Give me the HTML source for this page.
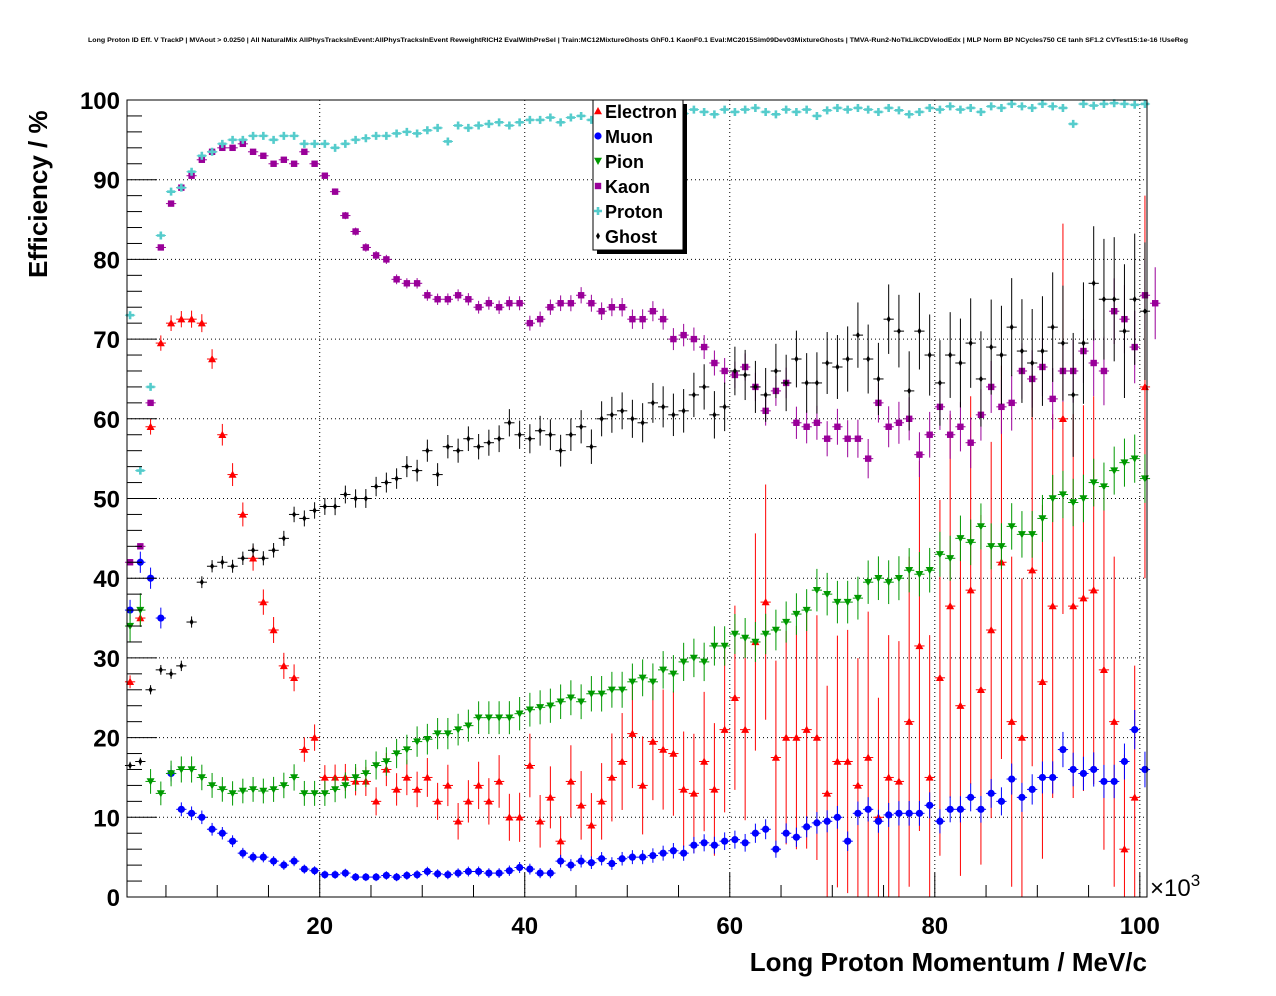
<!DOCTYPE html>
<html><head><meta charset="utf-8">
<style>
html,body{margin:0;padding:0;background:#fff;}
svg{display:block;font-family:"Liberation Sans",sans-serif;}
</style></head>
<body>
<svg id="chart" width="1276" height="996" viewBox="0 0 1276 996" xmlns="http://www.w3.org/2000/svg">
<rect x="0" y="0" width="1276" height="996" fill="#fff"/>
<text x="88" y="42" font-size="6.3" font-weight="bold" textLength="1100" lengthAdjust="spacingAndGlyphs">Long Proton ID Eff. V TrackP | MVAout &gt; 0.0250 | All NaturalMix AllPhysTracksInEvent:AllPhysTracksInEvent ReweightRICH2 EvalWithPreSel | Train:MC12MixtureGhosts GhF0.1 KaonF0.1 Eval:MC2015Sim09Dev03MixtureGhosts | TMVA-Run2-NoTkLikCDVelodEdx | MLP Norm BP NCycles750 CE tanh SF1.2 CVTest15:1e-16 !UseReg</text>
<g id="grid"></g>
<g id="marks"></g>
<rect x="127" y="100" width="1020" height="797" fill="none" stroke="#000" stroke-width="1"/>
<g id="axes"></g>
<text transform="translate(47,278) rotate(-90)" font-size="26" font-weight="bold">Efficiency / %</text>
<text x="1147" y="971" text-anchor="end" font-size="26" font-weight="bold">Long Proton Momentum / MeV/c</text>
<text x="1150" y="896" font-size="24">×10<tspan font-size="17" dy="-10">3</tspan></text>
<g id="legend"></g>
</svg>
<script>
const binStart = 1.5;
const electron = [27,35,59,69.5,72,72.5,72.5,72,67.5,58,53,48,42.5,37,33.5,29,27.5,18.5,20,15,15,15,14.5,14.5,12,16,13.5,15,13.5,15,12,14,9.5,12,14,12,14.5,10,10,16.5,9.5,12.5,7,14.5,11.5,9,12,15,17,20.5,14,19.5,18.5,18,13.5,13,17,13.5,21,25,21,32,37,17.5,20,20,21,20,13,17,17,14,17.5,10,15,14.5,22,31.5,15,27.5,36.5,24,38.5,26,33.5,42,22,20,41,27,36.5,60,36.5,37.5,38.5,28.5,22,6,12.5,64];
const muon = [36,42,40,35,15.5,11,10.5,10,8.5,8,7,5.5,5,5,4.5,4,4.5,3.5,3.3,2.8,2.8,3,2.5,2.5,2.5,2.7,2.5,2.7,2.8,3.2,2.9,2.8,3,3.2,3.2,3,3,3.3,3.7,3.5,3,3,4.5,4,4.5,4.3,4.8,4.2,4.8,5,5,5.2,5.5,5.8,5.5,6.5,6.8,6.5,7,7.2,6.8,8,8.5,6,8,7.5,8.8,9.3,9.5,10,7,10.5,11,9.5,10.3,10.5,10.5,10.5,11.5,9.5,11,11,12.5,11,13,12,14.8,12.5,13.5,15,15,18.5,16,15.5,16,14.5,14.5,17,21,16];
const pion = [34,36,14.5,13,15.5,16,16,15,14,13.5,13,13.3,13.5,13.3,13.5,14,15,13,13,13,13.5,14,15,15.5,16.5,17,18,18.5,19.5,19.8,20.5,20.5,21,21.5,22.5,22.5,22.5,22.5,23,23.5,23.8,24,24.5,25,24.5,25.5,25.5,26,26,27,27.5,27,28.5,28,29.5,30,29.5,31.5,31.5,33,32.5,32,33,33.5,34.5,35.5,36,38.5,38,37,37,37.5,39.5,40,39.5,40,41,40.5,41,43,42.5,45,44.5,46.5,44,44,46.5,45.5,45.5,47.5,50,50.5,49.5,50,52,51.5,53.5,54.5,55,52.5];
const kaon = [42,44,62,81.5,87,89,90.5,92.5,93.5,94,94,94.5,93.5,93,92,92.5,92,93.5,92,90.5,88.5,85.5,83.5,81.5,80.5,80,77.5,77,77,75.5,75,75,75.5,75,74,74.5,74,74.5,74.5,72,72.5,74,74.5,74.5,75.5,74.5,73.5,74,74,72.5,72.5,73.5,72.5,70,70.5,70,69,67,66,65.5,66.5,64,61,63.5,64.5,59.5,59,59.5,57.5,59,57.5,57.5,55,62,59,59.5,60,55.5,58,61.5,58,59,57,60.5,64,61.5,62,66,65,66.5,62.5,66,66,68.5,67,66,73.5,72.5,69,75.5,74.5];
const proton = [73,53.5,64,83,88.5,89,91,93,93.5,94.5,95,95,95.5,95.5,95,95.5,95.5,94.5,94.5,94.5,94,94.5,95,95.2,95.5,95.5,95.8,96,95.8,96.2,96.5,94.8,96.8,96.5,96.8,97,97.2,96.8,97.2,97.5,97.5,97.8,97.2,97.8,98,97.5,98,98.2,98,98.5,98,98.2,98.5,98,98.3,98.8,98.5,98.2,98.8,98.5,98.8,99,98.5,98.2,98.8,98.5,98.8,98,98.7,99,98.8,99,98.8,98.5,99,98.7,98.2,98.5,99,98.8,99.2,98.8,99,98.5,99.2,99,99.5,99.2,99,99.5,99.2,99,97,99.5,99.3,99.5,99.6,99.5,99.4,99.5];
const ghost = [16.5,17,26,28.5,28,29,34.5,39.5,41.5,42,41.5,42.5,43.5,42.5,43.5,45,48,47.5,48.5,49,49,50.5,50,50,51.5,52,52.5,54,53.5,56,53,56.5,56,57.5,56.5,57,57.5,59.5,58,57.5,58.5,58,56,58,59,56.5,60,60.5,61,60,59.5,62,61.5,60.5,61,63,64,60.5,61.5,66,65.5,64,63,66,64.5,67.5,64.5,64.5,67,66.5,67.5,70.5,67.5,65,72.5,71,63.5,71,68,64.5,68,67,69.5,65,69,68,71.5,68.5,67,68.5,71.5,69.5,63,69.5,77,75,75,71,75,73.5];
const seriesNames = ["Electron","Muon","Pion","Kaon","Proton","Ghost"];
const seriesColors = ["#ff0000","#0000ff","#009900","#990099","#55cccc","#000000"];
const seriesData = [electron,muon,pion,kaon,proton,ghost];
const seriesN = [3000,1400,520,18000,50000,6400];
const seriesDecay = [11,60,150,19,30,18];
const xTicks = [20,40,60,80,100];
const yTicks = [0,10,20,30,40,50,60,70,80,90,100];

const X0=127,X1=1147,Y0=897,Y1=100;
const xMin=1.2, xMax=100.7, yMin=0, yMax=100;
const sx=v=>X0+(v-xMin)/(xMax-xMin)*(X1-X0);
const sy=v=>Y0-(v-yMin)/(yMax-yMin)*(Y0-Y1);
const NS="http://www.w3.org/2000/svg";
function mk(tag,attrs,parent){const e=document.createElementNS(NS,tag);for(const k in attrs)e.setAttribute(k,attrs[k]);parent.appendChild(e);return e;}

const grid=document.getElementById('grid'), axes=document.getElementById('axes');
xTicks.forEach(t=>{
  const l=mk('line',{x1:sx(t),x2:sx(t),y1:Y1,y2:Y0,stroke:'#000','stroke-dasharray':'1,3','stroke-width':1},grid);
  
  
  const tk=mk('line',{x1:sx(t),x2:sx(t),y1:Y0,y2:Y0-24,stroke:'#000'},axes);
  
  
  const tx=mk('text',{x:sx(t),y:Y0+37,'text-anchor':'middle','font-size':24,'font-weight':'bold'},axes);
  tx.textContent=String(t);
  
  
});
for(let v=5;v<=100;v+=5){ if(v%20===0) continue;
  const tk=mk('line',{x1:sx(v),x2:sx(v),y1:Y0,y2:Y0-12,stroke:'#000'},axes);
  
  
}
yTicks.forEach(t=>{
  if(t>0&&t<100){
    const l=mk('line',{x1:X0,x2:X1,y1:sy(t),y2:sy(t),stroke:'#000','stroke-dasharray':'1,3','stroke-width':1},grid);
    
    
  }
  const tk=mk('line',{x1:X0,x2:X0+30,y1:sy(t),y2:sy(t),stroke:'#000'},axes);
  
  
  const tx=mk('text',{x:X0-7,y:sy(t)+9,'text-anchor':'end','font-size':24,'font-weight':'bold'},axes);
  tx.textContent=String(t);
  
  
});
for(let v=2;v<100;v+=2){ if(v%10===0) continue;
  const tk=mk('line',{x1:X0,x2:X0+15,y1:sy(v),y2:sy(v),stroke:'#000'},axes);
  
  
}

function marker(kind,cx,cy,col,parent){
  const s=4;
  if(kind===0) return mk('polygon',{points:`${cx},${cy-s} ${cx-s},${cy+s*0.8} ${cx+s},${cy+s*0.8}`,fill:col},parent);
  if(kind===1) return mk('circle',{cx:cx,cy:cy,r:3.6,fill:col},parent);
  if(kind===2) return mk('polygon',{points:`${cx},${cy+s} ${cx-s},${cy-s*0.8} ${cx+s},${cy-s*0.8}`,fill:col},parent);
  if(kind===3) return mk('rect',{x:cx-3.2,y:cy-3.2,width:6.4,height:6.4,fill:col},parent);
  if(kind===4) return mk('path',{d:`M${cx-4},${cy-1.3}h2.7v-2.7h2.6v2.7h2.7v2.6h-2.7v2.7h-2.6v-2.7h-2.7z`,fill:col},parent);
  return mk('polygon',{points:`${cx},${cy-3.5} ${cx-2},${cy} ${cx},${cy+3.5} ${cx+2},${cy}`,fill:col},parent);
}

const marks=document.getElementById('marks');
seriesData.forEach((arr,si)=>{
  const g=mk('g',{},marks);
  
  
  const col=seriesColors[si];
  arr.forEach((v,i)=>{
    const xc=binStart+i;
    const p=Math.min(Math.max(v/100,0.01),0.99);
    const nEff=Math.max(4,seriesN[si]*Math.exp(-i/seriesDecay[si]));
    const err=100*Math.sqrt(p*(1-p)/nEff);
    const cx=sx(xc), cy=sy(v);
    mk('line',{x1:sx(xc-0.5),x2:sx(xc+0.5),y1:cy,y2:cy,stroke:col,'stroke-width':1},g);
    mk('line',{x1:cx,x2:cx,y1:sy(Math.min(100,v+err)),y2:sy(Math.max(0,v-err)),stroke:col,'stroke-width':1},g);
    const m=marker(si,cx,cy,col,g);
    
    
  });
});

const leg=document.getElementById('legend');
mk('rect',{x:597,y:104,width:90,height:150,fill:'#000'},leg);
const lb=mk('rect',{x:593,y:100,width:90,height:150,fill:'#fff',stroke:'#000'},leg);


seriesNames.forEach((n,i)=>{
  const y=111+i*25;
  const m=marker(i,598,y,seriesColors[i],leg);
  
  
  const t=mk('text',{x:605,y:y+7,'font-size':18,'font-weight':'bold'},leg);
  t.textContent=n;
  
  
});
</script>
</body></html>
